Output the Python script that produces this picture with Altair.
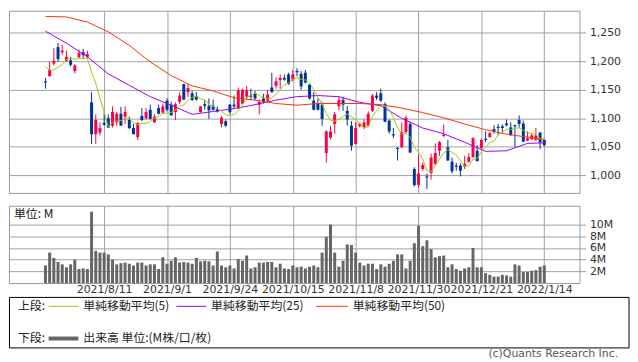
import altair as alt
import pandas as pd

# ---------------- data ----------------
opens = [1165,1174,1196,1225,1216,1201,1202,1183,1207,1216,
         1208,1128,1072,1075,1092,1100,1087,1093,1108,1103,
         1097,1083,1067,1104,1100,1115,1093,1118,1110,1131,
         1124,1111,1129,1160,1146,1144,1139,1111,1125,1122,
         1122,1116,1090,1095,1124,1124,1118,1126,1138,1140,
         1143,1124,1135,1131,1154,1157,1167,1171,1177,1168,
         1183,1178,1180,1159,1131,1126,1124,1039,1066,1090,
         1121,1132,1113,1087,1055,1086,1084,1087,1113,1140,
         1144,1125,1096,1072,1048,1049,1076,1090,1011,983,
         1011,998,1004,1020,1043,1069,1049,1024,1017,1017,
         1015,1024,1032,1043,1048,1064,1067,1081,1085,1086,
         1091,1084,1088,1097,1091,1061,1063,1062,1075,1062]
closes = [1163,1185,1201,1204,1219,1208,1194,1193,1215,1211,
          1213,1072,1097,1083,1089,1084,1111,1108,1087,1111,
          1083,1072,1092,1097,1111,1099,1103,1108,1121,1115,
          1105,1125,1140,1133,1153,1132,1133,1121,1122,1114,
          1115,1112,1101,1087,1111,1121,1149,1150,1149,1138,
          1135,1129,1128,1142,1146,1165,1171,1168,1160,1177,
          1181,1156,1163,1135,1115,1115,1099,1077,1077,1107,
          1132,1124,1098,1052,1083,1090,1093,1108,1140,1136,
          1131,1094,1077,1070,1046,1076,1101,1040,983,1003,
          1018,996,1031,1039,1058,1071,1026,1007,1015,1008,
          1020,1032,1065,1025,1062,1062,1074,1077,1083,1083,
          1088,1071,1086,1090,1059,1065,1070,1070,1058,1053]
highs = [1171,1199,1223,1232,1229,1219,1208,1195,1221,1222,
         1219,1146,1107,1093,1110,1107,1121,1111,1120,1121,
         1103,1090,1093,1118,1118,1124,1107,1124,1126,1135,
         1129,1128,1146,1161,1160,1148,1146,1122,1132,1135,
         1133,1121,1104,1098,1125,1140,1154,1152,1157,1152,
         1148,1133,1143,1150,1180,1172,1177,1177,1180,1185,
         1188,1183,1185,1160,1146,1135,1129,1079,1087,1111,
         1138,1138,1121,1095,1093,1093,1098,1112,1143,1146,
         1152,1128,1098,1083,1049,1093,1105,1094,1014,1036,
         1022,1003,1038,1056,1060,1089,1062,1031,1022,1021,
         1034,1039,1067,1053,1065,1077,1076,1088,1090,1089,
         1098,1093,1089,1105,1096,1077,1073,1083,1076,1063]
lows = [1152,1173,1193,1199,1212,1199,1191,1179,1206,1205,
        1206,1055,1055,1070,1087,1083,1084,1087,1087,1090,
        1081,1072,1062,1095,1098,1098,1092,1107,1108,1112,
        1105,1097,1125,1132,1137,1131,1131,1110,1115,1099,
        1114,1110,1084,1085,1108,1118,1116,1125,1132,1132,
        1132,1107,1126,1129,1145,1152,1152,1166,1159,1165,
        1174,1150,1161,1133,1114,1114,1087,1022,1063,1073,
        1114,1113,1087,1043,1054,1084,1081,1086,1111,1132,
        1129,1093,1073,1065,1026,1048,1073,1039,980,979,
        1008,976,992,1017,1034,1067,1025,1003,1008,998,
        1011,1022,1031,1024,1045,1058,1066,1073,1070,1075,
        1086,1069,1050,1084,1058,1060,1062,1060,1046,1051]
volumes = [3.0,5.2,4.3,3.6,3.2,2.7,3.2,4.0,2.4,2.5,
           2.4,12.2,5.5,5.2,5.2,4.9,4.0,3.2,3.4,3.5,
           3.3,3.0,3.5,3.5,3.0,3.2,3.2,2.4,4.4,3.3,
           3.8,4.4,3.5,3.6,3.5,3.3,4.3,3.7,3.8,3.7,
           3.0,5.4,3.0,2.7,3.0,2.5,4.1,3.8,4.7,2.5,
           2.7,3.5,3.5,3.6,3.6,2.7,3.3,2.5,2.4,3.0,
           2.7,2.8,2.5,2.8,3.0,2.7,5.2,7.9,10.0,5.2,
           2.8,3.8,6.6,6.5,5.2,3.5,3.0,3.3,3.3,2.4,
           3.2,2.8,3.3,3.8,4.9,4.9,2.5,3.8,6.8,9.8,
           6.3,7.3,5.8,4.4,4.6,4.7,2.7,3.2,2.4,2.1,
           2.5,2.7,6.0,2.7,2.7,1.7,1.4,1.1,1.1,1.4,
           1.3,1.1,3.2,3.0,1.9,1.9,2.1,2.2,2.8,3.0]

ma5_head = [1191, 1184, 1185, 1190]          # 5-day average before enough candles
ma_idx = [0,5,10,15,20,25,30,35,40,45,50,55,60,65,70,75,80,85,90,95,100,105,110,115,119]
ma25 = [1253,1232,1208,1178,1158,1138,1123,1107,1112,1117,1124,1132,1138,1140,1138,1128,
        1122,1100,1083,1073,1058,1042,1043,1056,1057]
ma50 = [1279,1278,1269,1252,1228,1199,1175,1157,1148,1136,1132,1126,1123,1126,1126,1126,
        1124,1118,1110,1101,1090,1080,1072,1067,1063]

tick_idx = [14, 29, 44, 59, 74, 89, 104, 119]
tick_labels = ["2021/8/11", "2021/9/1", "2021/9/24", "2021/10/15",
               "2021/11/8", "2021/11/30", "2021/12/21", "2022/1/14"]
price_ticks = [1000, 1050, 1100, 1150, 1200, 1250]
vol_ticks = [2, 4, 6, 8, 10]

legend_labels = ["単純移動平均(5)", "単純移動平均(25)", "単純移動平均(50)"]

# ---------------- frames ----------------
n = len(opens)
df = pd.DataFrame({"i": list(range(n)), "open": opens, "close": closes,
                   "high": highs, "low": lows, "vol": volumes})
df["dir"] = ["up" if c >= o else "down" for o, c in zip(opens, closes)]
df["zero"] = 0.0

ma5_vals = ma5_head + [sum(closes[k-4:k+1]) / 5 for k in range(4, n)]
ma5_df = pd.DataFrame({"i": list(range(n)), "v": ma5_vals})
ma25_df = pd.DataFrame({"i": ma_idx, "v": ma25})
ma50_df = pd.DataFrame({"i": ma_idx, "v": ma50})
one = pd.DataFrame({"k": [0]})

RED = "#ff0044"
BLUE = "#003399"
C5, C25, C50 = "#99cc00", "#9900ff", "#ff3300"
GRID = "#a0a0a0"
W = 576

label_expr = " : ".join(f"datum.value == {v} ? '{t}'" for v, t in zip(tick_idx, tick_labels)) + " : ''"

xscale = alt.Scale(domain=[-8.7, 127.4], nice=False, zero=False)
pscale = alt.Scale(domain=[969, 1289], nice=False, zero=False)
vscale = alt.Scale(domain=[0, 13.2], nice=False)

x_top_axis = alt.Axis(values=tick_idx, labels=False, ticks=False, domain=False,
                      grid=True, gridColor=GRID, title=None)
y_price_axis = alt.Axis(orient="right", values=price_ticks,
                        labelExpr="format(datum.value, ',')", grid=True,
                        gridColor=GRID, domain=False, ticks=True, tickSize=6,
                        tickColor="#999999", labelPadding=4, labelFontSize=11,
                        labelOverlap=False, labelFlush=False,
                        labelFont="DejaVu Sans", labelColor="#333333", title=None)


def px(field="i"):
    return alt.X(f"{field}:Q", scale=xscale, axis=x_top_axis)


def py(field):
    return alt.Y(f"{field}:Q", scale=pscale, axis=y_price_axis)


color_enc = alt.Color("dir:N", scale=alt.Scale(domain=["up", "down"], range=[RED, BLUE]), legend=None)

wicks = alt.Chart(df).mark_rule(strokeWidth=1).encode(
    x=px(), y=py("low"), y2="high:Q", color=color_enc)
bodies = alt.Chart(df).mark_rule(strokeWidth=3).encode(
    x=px(), y=py("open"), y2="close:Q", color=color_enc)


def ma_line(d, col):
    return alt.Chart(d).mark_line(color=col, strokeWidth=1).encode(x=px(), y=py("v"))


price = alt.layer(wicks, bodies, ma_line(ma25_df, C25), ma_line(ma50_df, C50),
                  ma_line(ma5_df, C5)).properties(width=W, height=184)

# volume panel
vol_bars = alt.Chart(df).mark_rule(strokeWidth=3, color="#666666").encode(
    x=alt.X("i:Q", scale=xscale,
            axis=alt.Axis(values=tick_idx, labelExpr=label_expr, grid=True, gridColor=GRID,
                          ticks=False, domain=False, labelPadding=1, labelFontSize=11,
                          labelFont="DejaVu Sans", labelColor="#333333", labelOverlap=False,
                          labelFlush=False, title=None)),
    y=alt.Y("vol:Q", scale=vscale,
            axis=alt.Axis(orient="right", values=vol_ticks, labelExpr="datum.value + 'M'",
                          grid=True, gridColor=GRID, domain=False, tickSize=6,
                          tickColor="#999999", labelPadding=4, labelFontSize=11,
                          labelOverlap=False, labelFlush=False,
                          labelFont="DejaVu Sans", labelColor="#333333", title=None)),
    y2="zero:Q")


def txt(s, x, y, size=12, color="#222222", align="left", font="Noto Sans CJK JP"):
    return alt.Chart(one).mark_text(align=align, baseline="middle", fontSize=size,
                                    font=font, color=color).encode(
        x=alt.value(x), y=alt.value(y), text=alt.value(s))


def seg(x1, x2, y, col, w=1):
    return alt.Chart(one).mark_rule(color=col, strokeWidth=w).encode(
        x=alt.value(x1), x2=alt.value(x2), y=alt.value(y))


legend_box = alt.Chart(one).mark_rect(fill="white", stroke="#000000", strokeWidth=1).encode(
    x=alt.value(0.5), x2=alt.value(626), y=alt.value(92.5), y2=alt.value(143.5))

r1, r2 = 101.5, 134
volume = alt.layer(
    vol_bars,
    txt("単位: M", 5, 8),
    legend_box,
    txt("上段:", 9, r1),
    seg(40, 70, r1, C5), txt(legend_labels[0], 75, r1),
    seg(169, 199, r1, C25), txt(legend_labels[1], 204, r1),
    seg(310, 342, r1, C50), txt(legend_labels[2], 347, r1),
    txt("下段:", 9, r2),
    seg(40, 70, r2, "#666666", 4), txt("出来高 単位:(M株/口/枚)", 75, r2),
    txt("(c)Quants Research Inc.", 615, 150, size=11, color="#555555", align="right",
        font="DejaVu Sans"),
).properties(width=W, height=78)

chart = alt.vconcat(price, volume, spacing=11).configure_view(
    stroke="#999999", strokeWidth=1).properties(padding=0, background="white")

chart.save("out.html", embed_options={"renderer": "svg", "actions": False})
